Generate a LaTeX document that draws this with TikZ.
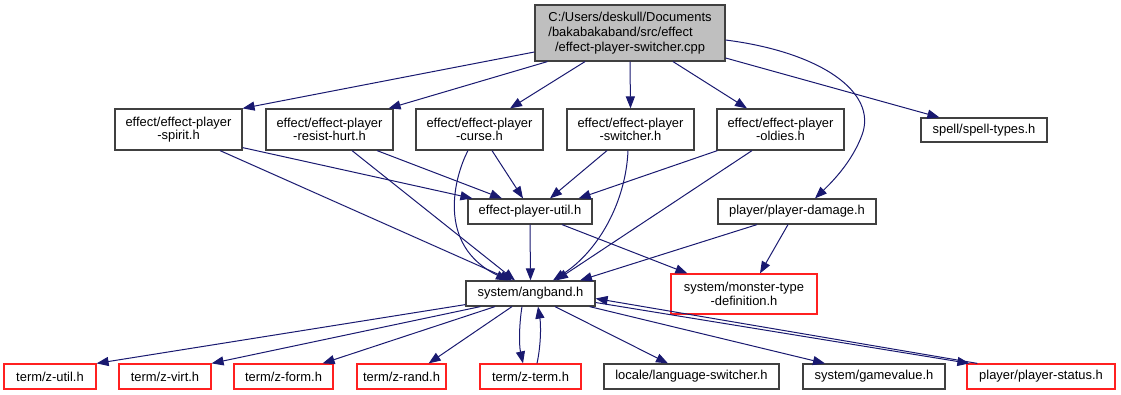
\documentclass[tikz,border=0pt]{standalone}
\usepackage{fontspec}
\setmainfont{Liberation Sans}
\usetikzlibrary{arrows.meta,calc}
\definecolor{edgeblue}{HTML}{191970}
\definecolor{rootfill}{HTML}{BFBFBF}
\definecolor{boxframe}{HTML}{404040}
\definecolor{redframe}{HTML}{FF2020}

\begin{document}
\begin{tikzpicture}[x=0.75pt,y=-0.75pt,
  file/.style={draw=boxframe, line width=0.9pt, fill=white, inner sep=0pt,
    align=center, font=\fontsize{9.7pt}{10pt}\selectfont},
  redfile/.style={file, draw=redframe},
  sz/.style 2 args={minimum width=#1*0.75pt, minimum height=#2*0.75pt},
  dep/.style={draw=edgeblue, line width=0.75pt,
    -{Triangle[length=9pt,width=6.8pt]}}]

\useasboundingbox (0,0) rectangle (1121,395);

% source file
\node[file, sz={190}{56}, fill=rootfill, align=left,
  font=\fontsize{9.7pt}{11.2pt}\selectfont] (root) at (630,33)
  {C:/Users/deskull/Documents\\/bakabakaband/src/effect\\\hspace{5pt}/effect-player-switcher.cpp};

% direct includes
\node[file, sz={127}{41}] (spirit)   at (178.5,129.5) {effect/effect-player\\-spirit.h};
\node[file, sz={127}{41}] (resist)   at (329.5,129.5) {effect/effect-player\\-resist-hurt.h};
\node[file, sz={127}{41}] (curse)    at (479.5,129.5) {effect/effect-player\\-curse.h};
\node[file, sz={127}{41}] (switcher) at (630.5,129.5) {effect/effect-player\\-switcher.h};
\node[file, sz={127}{41}] (oldies)   at (780.5,129.5) {effect/effect-player\\-oldies.h};
\node[file, sz={126}{24}] (spell)    at (984,130)     {spell/spell-types.h};

% middle layer
\node[file, sz={124}{25}] (util)    at (530,211.5) {effect-player-util.h};
\node[file, sz={158}{25}] (damage)  at (797,211.5) {player/player-damage.h};
\node[file, sz={129}{25}] (angband) at (530.5,293.5) {system/angband.h};
\node[redfile, sz={146}{40}] (monster) at (744,294) {system/monster-type\\-definition.h};

% bottom row
\node[redfile, sz={92}{25}]  (zutil)   at (50,376.5)    {term/z-util.h};
\node[redfile, sz={92}{25}]  (zvirt)   at (165,376.5)   {term/z-virt.h};
\node[redfile, sz={99}{25}]  (zform)   at (283.5,376.5) {term/z-form.h};
\node[redfile, sz={89}{25}]  (zrand)   at (401.5,376.5) {term/z-rand.h};
\node[redfile, sz={101}{25}] (zterm)   at (530.5,376.5) {term/z-term.h};
\node[file, sz={175}{25}]    (lang)    at (691.5,376.5) {locale/language-switcher.h};
\node[file, sz={142}{25}]    (gamev)   at (874,376.5)   {system/gamevalue.h};
\node[redfile, sz={148}{25}] (pstatus) at (1041,376.5)  {player/player-status.h};

% includes of the source file
\draw[dep] ($(root.west)+(0,19)$) -- (spirit.north east);
\draw[dep] ($(root.south west)+(13,0)$) -- ($(resist.north east)+(-5,0)$);
\draw[dep] ($(root.south)+(-45,0)$) -- ($(curse.north)+(30.5,0)$);
\draw[dep] (root.south) -- (switcher.north);
\draw[dep] ($(root.south)+(43,0)$) -- ($(oldies.north)+(-33.5,0)$);
\draw[dep] ($(root.east)+(0,25)$) -- ($(spell.north west)+(19,0)$);
\draw[dep] ($(root.east)+(0,7)$) .. controls (820,52) and (878,92) .. (862,135)
  .. controls (852,162) and (832,182) .. ($(damage.north)+(18,0)$);

% effect headers
\draw[dep] ($(spirit.south east)+(0,-3)$) -- ($(util.north west)+(5,0)$);
\draw[dep] ($(spirit.south)+(41.5,0)$) -- ($(angband.north)+(-18.5,0)$);
\draw[dep] ($(resist.south)+(47.5,0)$) -- ($(util.north)+(-28,0)$);
\draw[dep] ($(resist.south)+(22.5,0)$) -- ($(angband.north)+(-15.5,0)$);
\draw[dep] ($(curse.south)+(12.5,0)$) -- ($(util.north)+(-7,0)$);
\draw[dep] ($(curse.south)+(-11.5,0)$) .. controls (455,175) and (435,245) .. ($(angband.north)+(-22.5,0)$);
\draw[dep] ($(switcher.south)+(-23.5,0)$) -- ($(util.north)+(20,0)$);
\draw[dep] ($(switcher.south)+(-2.5,0)$) .. controls (626,200) and (600,250) .. ($(angband.north)+(22.5,0)$);
\draw[dep] ($(oldies.south west)+(1,0)$) -- ($(util.north east)+(-14,0)$);
\draw[dep] ($(oldies.south)+(-28.5,0)$) -- ($(angband.north)+(25.5,0)$);

% middle layer
\draw[dep] ($(damage.south)+(-40,0)$) -- ($(angband.north)+(49.5,0)$);
\draw[dep] ($(damage.south)+(-9,0)$) -- ($(monster.north)+(16,0)$);
\draw[dep] (util.south) -- (angband.north);
\draw[dep] ($(util.south)+(32,0)$) -- ($(monster.north west)+(17,0)$);

% system/angband.h includes
\draw[dep] ($(angband.south west)+(0,-2)$) -- (zutil.north east);
\draw[dep] ($(angband.south west)+(15,0)$) -- (zvirt.north east);
\draw[dep] ($(angband.south)+(-35.5,0)$) -- ($(zform.north east)+(-11,0)$);
\draw[dep] ($(angband.south)+(-18.5,0)$) -- ($(zrand.north east)+(-18,0)$);
\draw[dep] ($(angband.south)+(-8.5,0)$) .. controls (519,325) and (519,345) .. ($(zterm.north)+(-7.5,0)$);
\draw[dep] ($(zterm.north)+(6.5,0)$) .. controls (541,345) and (541,325) .. ($(angband.south)+(7.5,0)$);
\draw[dep] ($(angband.south)+(24.5,0)$) -- ($(lang.north)+(-23.5,0)$);
\draw[dep] ($(angband.south east)+(-6,0)$) -- ($(gamev.north)+(-49,0)$);
\draw[dep] ($(angband.east)+(0,9)$) -- ($(pstatus.north west)+(3,0)$);
\draw[dep] ($(pstatus.north west)+(11,0)$) -- ($(angband.east)+(0,5)$);
\end{tikzpicture}
\end{document}
